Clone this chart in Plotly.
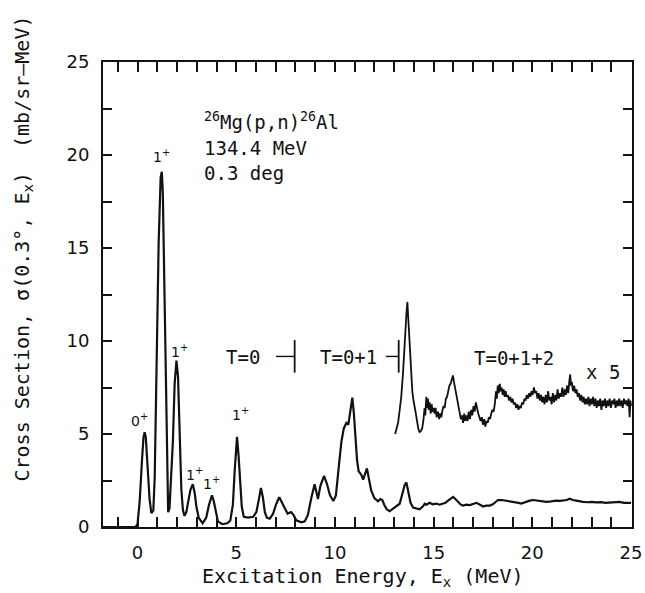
import plotly.graph_objects as go

# ---------------- data ----------------
energy_main = [
    -1.75, -0.10, 0.00, 0.11, 0.22, 0.30, 0.36, 0.42, 0.50, 0.61, 0.70, 0.80,
    0.87, 0.95, 1.07, 1.17, 1.23, 1.28, 1.32, 1.41, 1.49, 1.55, 1.62, 1.71,
    1.79, 1.88, 1.97, 2.05, 2.13, 2.22, 2.30, 2.38, 2.47, 2.55, 2.68, 2.80,
    2.90, 2.98, 3.10, 3.30, 3.48, 3.62, 3.77, 3.86, 3.95, 4.07, 4.30, 4.55,
    4.70, 4.83, 4.92, 5.04, 5.12, 5.20, 5.28, 5.38, 5.60, 5.86, 6.02, 6.15,
    6.25, 6.35, 6.45, 6.55, 6.70, 6.86, 7.03, 7.18, 7.40, 7.60, 7.78, 7.90,
    8.04, 8.30, 8.47, 8.63, 8.80, 8.97, 9.08, 9.14, 9.26, 9.45, 9.60, 9.75,
    9.92, 10.05, 10.20, 10.33, 10.45, 10.58, 10.68, 10.78, 10.88, 10.96, 11.04,
    11.12, 11.20, 11.34, 11.43, 11.53, 11.62, 11.72, 11.84, 12.00, 12.18, 12.30,
    12.40, 12.50, 12.62, 12.77, 12.94, 13.10, 13.28, 13.42, 13.53, 13.62, 13.72,
    13.83, 13.96, 14.12, 14.29, 14.45, 14.55, 14.63, 14.80, 14.95, 15.14, 15.30,
    15.48, 15.60, 15.73, 15.90, 15.99, 16.10, 16.24, 16.38, 16.49, 16.65, 16.83,
    17.00, 17.17, 17.35, 17.50, 17.67, 17.84, 18.00, 18.10, 18.26, 18.45, 18.68,
    18.90, 19.10, 19.30, 19.44, 19.65, 19.87, 20.05, 20.29, 20.50, 20.71, 20.95,
    21.21, 21.40, 21.55, 21.75, 21.89, 22.05, 22.23, 22.40, 22.56, 22.80, 23.00,
    23.24, 23.50, 23.70, 23.91, 24.15, 24.42, 24.65, 24.92, 25.00,
]
xsec_main = [
    0.00, 0.00, 0.15, 1.40, 3.50, 4.80, 5.10, 4.80, 3.40, 1.50, 0.75, 0.90,
    2.70, 8.00, 15.30, 18.80, 19.10, 18.00, 15.30, 8.10, 2.70, 0.80, 1.00, 2.60,
    4.60, 7.70, 8.95, 8.10, 4.70, 2.00, 0.90, 0.60, 0.80, 1.20, 2.00, 2.30,
    1.80, 1.10, 0.50, 0.20, 0.50, 1.20, 1.70, 1.40, 0.90, 0.30, 0.15, 0.20,
    0.35, 1.20, 3.00, 4.85, 3.80, 2.40, 1.10, 0.55, 0.50, 0.55, 0.80, 1.50,
    2.10, 1.60, 0.80, 0.50, 0.45, 0.70, 1.25, 1.60, 1.10, 0.72, 0.80, 0.65,
    0.36, 0.25, 0.30, 0.65, 1.55, 2.30, 1.80, 1.50, 2.20, 2.75, 2.30, 1.70,
    1.40, 1.70, 3.30, 4.60, 5.30, 5.60, 5.50, 6.20, 6.95, 6.10, 4.80,
    3.60, 3.00, 2.80, 2.55, 2.90, 3.15, 2.60, 1.95, 1.55, 1.38, 1.50,
    1.45, 1.20, 0.95, 0.85, 1.00, 1.10, 1.25, 1.80, 2.25, 2.40, 1.90,
    1.30, 1.05, 1.00, 0.95, 1.10, 1.25, 1.20, 1.30, 1.22, 1.26, 1.20,
    1.25, 1.30, 1.42, 1.55, 1.62, 1.50, 1.32, 1.20, 1.15, 1.20, 1.18,
    1.25, 1.30, 1.20, 1.10, 1.15, 1.15, 1.22, 1.30, 1.45, 1.45, 1.42,
    1.38, 1.35, 1.30, 1.26, 1.35, 1.42, 1.45, 1.40, 1.38, 1.35, 1.38,
    1.42, 1.40, 1.43, 1.45, 1.52, 1.45, 1.42, 1.38, 1.35, 1.33, 1.35,
    1.32, 1.34, 1.30, 1.32, 1.33, 1.35, 1.30, 1.27, 1.30,
]

energy_x5 = [
    13.05, 13.12, 13.20, 13.27, 13.36, 13.45, 13.52, 13.58, 13.63, 13.67, 13.71,
    13.75, 13.80, 13.86, 13.92, 13.98, 14.04, 14.10, 14.16, 14.22, 14.29, 14.35,
    14.42, 14.48, 14.54, 14.58, 14.63, 14.67, 14.71, 14.75, 14.80, 14.85, 14.90,
    14.95, 15.00, 15.05, 15.10, 15.15, 15.22, 15.28, 15.34, 15.39, 15.45, 15.50,
    15.56, 15.62, 15.68, 15.74, 15.80, 15.86, 15.92, 15.98, 16.03, 16.08, 16.14,
    16.20, 16.26, 16.32, 16.38, 16.44, 16.49, 16.55, 16.60, 16.66, 16.72, 16.78,
    16.84, 16.90, 16.96, 17.02, 17.08, 17.14, 17.20, 17.26, 17.32, 17.38, 17.44,
    17.50, 17.56, 17.62, 17.68, 17.74, 17.80, 17.86, 17.92, 17.98, 18.04, 18.10,
    18.16, 18.20, 18.25, 18.30, 18.35, 18.40, 18.45, 18.50, 18.55, 18.60, 18.65,
    18.70, 18.76, 18.82, 18.88, 18.94, 19.00, 19.06, 19.12, 19.18, 19.24, 19.30,
    19.36, 19.42, 19.48, 19.54, 19.60, 19.66, 19.72, 19.78, 19.84, 19.90, 19.96,
    20.02, 20.08, 20.14, 20.20, 20.26, 20.32, 20.38, 20.44, 20.50, 20.56, 20.62,
    20.68, 20.74, 20.80, 20.86, 20.92, 20.98, 21.04, 21.10, 21.16, 21.22, 21.28,
    21.34, 21.40, 21.46, 21.52, 21.58, 21.64, 21.70, 21.76, 21.82, 21.88, 21.92,
    21.96, 22.00, 22.06, 22.12, 22.18, 22.24, 22.30, 22.36, 22.42, 22.48, 22.54,
    22.60, 22.66, 22.72, 22.78, 22.84, 22.90, 22.96, 23.02, 23.08, 23.14, 23.20,
    23.26, 23.32, 23.38, 23.44, 23.50, 23.56, 23.62, 23.68, 23.74, 23.80, 23.86,
    23.92, 23.98, 24.04, 24.10, 24.16, 24.22, 24.28, 24.34, 24.40, 24.46, 24.52,
    24.58, 24.64, 24.70, 24.76, 24.82, 24.88, 24.93, 24.97, 25.00,
]
xsec_x5 = [
    5.00, 5.30, 5.60, 6.20, 7.00, 8.30, 9.80, 10.80, 11.60, 12.10, 11.30,
    10.70, 9.60, 8.30, 7.30, 6.80, 6.50, 6.10, 5.70, 5.30, 5.10, 5.15,
    5.30, 5.70, 6.40, 6.00, 7.00, 6.40, 6.90, 6.30, 6.70, 6.10, 6.60,
    6.20, 6.40, 6.10, 6.40, 5.90, 6.20, 5.80, 6.10, 5.90, 6.30, 6.50,
    6.40, 6.90, 7.00, 7.40, 7.60, 7.70, 7.90, 8.15, 7.80, 7.50, 7.20,
    6.80, 6.40, 6.10, 5.80, 6.00, 5.60, 6.10, 5.70, 6.00, 5.70, 6.20,
    5.80, 6.30, 6.00, 6.50, 6.20, 6.70, 6.30, 6.10, 5.90, 5.70, 5.90,
    5.50, 5.80, 5.40, 5.70, 5.60, 5.90, 5.80, 6.10, 6.30, 6.20, 6.60,
    7.30, 6.90, 7.60, 7.20, 7.70, 7.30, 7.50, 7.10, 7.40, 7.00, 7.30,
    7.00, 7.10, 6.80, 7.00, 6.70, 6.90, 6.60, 6.70, 6.40, 6.60, 6.30,
    6.50, 6.40, 6.70, 6.60, 6.90, 6.80, 7.10, 6.90, 7.20, 7.00, 7.30,
    7.10, 7.50, 7.20, 7.30, 6.90, 7.20, 6.80, 7.10, 6.70, 7.00, 6.60,
    7.10, 6.70, 7.30, 6.80, 7.00, 6.60, 7.20, 6.70, 7.10, 6.80, 7.40,
    6.90, 7.20, 7.00, 7.50, 7.00, 7.40, 7.10, 7.60, 7.20, 7.90, 8.20,
    7.60, 7.80, 7.30, 7.60, 7.20, 7.40, 7.00, 7.20, 6.80, 7.10, 6.70,
    7.00, 6.60, 6.90, 6.60, 7.00, 6.50, 6.90, 6.60, 7.00, 6.50, 6.90,
    6.40, 6.80, 6.50, 6.90, 6.30, 6.80, 6.50, 6.90, 6.40, 6.80, 6.50,
    6.90, 6.40, 6.80, 6.60, 6.90, 6.40, 6.80, 6.50, 6.90, 6.50, 6.80,
    6.40, 6.90, 6.60, 6.80, 6.50, 6.90, 5.90, 6.80, 6.50,
]

x_tick_values = [0, 5, 10, 15, 20, 25]
x_tick_labels = ["0", "5", "10", "15", "20", "25"]
y_tick_values = [0, 5, 10, 15, 20, 25]
y_tick_labels = ["0", "5", "10", "15", "20", "25"]

# peak spin labels
peak_label_energy = [0.12, 1.22, 2.12, 2.88, 3.77, 5.22]
peak_label_height = [5.75, 19.95, 9.45, 2.85, 2.35, 6.05]
peak_label_text = ["0<sup>+</sup>", "1<sup>+</sup>", "1<sup>+</sup>",
                   "1<sup>+</sup>", "1<sup>+</sup>", "1<sup>+</sup>"]

# isospin region boundaries (MeV)
isospin_boundaries = [7.96, 13.23]
isospin_labels = ["T=0", "T=0+1", "T=0+1+2"]

FONT = "DejaVu Sans Mono"
BLACK = "#111111"

fig = go.Figure()
fig.add_trace(go.Scatter(x=energy_main, y=xsec_main, mode="lines",
                         line=dict(color=BLACK, width=2.2), showlegend=False,
                         hoverinfo="skip"))
fig.add_trace(go.Scatter(x=energy_x5, y=xsec_x5, mode="lines",
                         line=dict(color=BLACK, width=1.8), showlegend=False,
                         hoverinfo="skip"))

annotations = []
for e, h, t in zip(peak_label_energy, peak_label_height, peak_label_text):
    annotations.append(dict(x=e, y=h, text=t, showarrow=False,
                            font=dict(family="DejaVu Sans", size=14, color=BLACK),
                            xanchor="center", yanchor="middle"))

# header block
header_lines = ["<sup>26</sup>Mg(p,n)<sup>26</sup>Al", "134.4 MeV", "0.3 deg"]
header_y = [21.85, 20.4, 19.05]
for txt, yy in zip(header_lines, header_y):
    annotations.append(dict(x=3.25, y=yy, text=txt, showarrow=False,
                            font=dict(family=FONT, size=19, color=BLACK),
                            xanchor="left", yanchor="middle"))

# isospin labels
label_font = dict(family=FONT, size=19, color=BLACK)
annotations.append(dict(x=5.34, y=9.15, text=isospin_labels[0], showarrow=False,
                        font=label_font))
annotations.append(dict(x=10.7, y=9.15, text=isospin_labels[1], showarrow=False,
                        font=label_font))
annotations.append(dict(x=19.05, y=9.1, text=isospin_labels[2], showarrow=False,
                        font=label_font))
annotations.append(dict(x=23.6, y=8.35, text="x 5", showarrow=False,
                        font=label_font))

# axis titles
annotations.append(dict(x=0.492, y=-0.108, xref="paper", yref="paper",
                        text="Excitation Energy, E<sub>x</sub> (MeV)",
                        showarrow=False, xanchor="center", yanchor="middle",
                        font=dict(family=FONT, size=20, color=BLACK)))
annotations.append(dict(x=-0.152, y=0.598, xref="paper", yref="paper",
                        text="Cross Section, σ(0.3°, E<sub>x</sub>)  (mb/sr–MeV)",
                        textangle=-90, showarrow=False, xanchor="center",
                        yanchor="middle",
                        font=dict(family=FONT, size=20, color=BLACK)))

shapes = []
arrow_len = [0.95, 0.65]
for b, al in zip(isospin_boundaries, arrow_len):
    shapes.append(dict(type="line", x0=b, x1=b, y0=8.3, y1=10.05,
                       xref="x", yref="y", line=dict(color=BLACK, width=1.8)))
    shapes.append(dict(type="line", x0=b - al, x1=b, y0=9.17, y1=9.17,
                       xref="x", yref="y", line=dict(color=BLACK, width=1.4)))

fig.update_layout(
    width=645, height=593, autosize=False,
    margin=dict(l=103, r=13, t=62, b=66, pad=0),
    paper_bgcolor="white", plot_bgcolor="white",
    showlegend=False,
    annotations=annotations, shapes=shapes,
    font=dict(family=FONT, color=BLACK),
    xaxis=dict(range=[-1.75, 25.05], tickmode="array", tickvals=x_tick_values,
               ticktext=x_tick_labels, ticks="inside", ticklen=10, tickwidth=1.5,
               tickcolor=BLACK, showline=True, linewidth=2, linecolor=BLACK,
               mirror="allticks", showgrid=False, zeroline=False, automargin=False,
               minor=dict(tickmode="linear", tick0=0, dtick=1, ticks="inside",
                          ticklen=10, tickwidth=1.5, tickcolor=BLACK,
                          showgrid=False),
               tickfont=dict(family="DejaVu Sans", size=18, color=BLACK),
               ticklabelstandoff=8),
    yaxis=dict(range=[0, 25], tickmode="array", tickvals=y_tick_values,
               ticktext=y_tick_labels, ticks="inside", ticklen=9, tickwidth=1.5,
               tickcolor=BLACK, showline=True, linewidth=2, linecolor=BLACK,
               mirror="allticks", showgrid=False, zeroline=False, automargin=False,
               minor=dict(tickmode="linear", tick0=0, dtick=2.5, ticks="inside",
                          ticklen=9, tickwidth=1.5, tickcolor=BLACK,
                          showgrid=False),
               tickfont=dict(family="DejaVu Sans", size=18, color=BLACK),
               ticklabelstandoff=8),
)

fig.write_html("out.html")
